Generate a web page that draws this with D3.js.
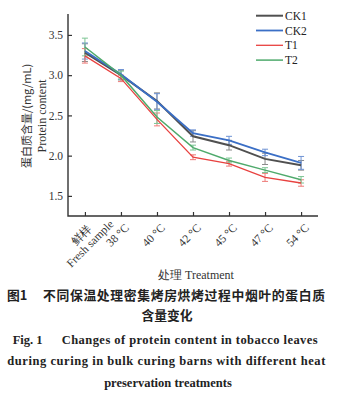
<!DOCTYPE html>
<html>
<head>
<meta charset="utf-8">
<script src="https://cdn.jsdelivr.net/npm/d3@7"></script>
<style>
  body { margin: 0; background: #fff; }
  svg { display: block; }
</style>
</head>
<body>
<div id="chart"></div>
<script>
const categories = ['鲜样|Fresh sample', '38 °C', '40 °C', '42 °C', '45 °C', '47 °C', '54 °C']
const yTicks = [1.5, 2.0, 2.5, 3.0, 3.5]

const ck1 = [3.28, 3.00, 2.68, 2.24, 2.13, 1.96, 1.88]
const ck2 = [3.30, 3.01, 2.67, 2.28, 2.19, 2.04, 1.91]
const t1 = [3.24, 2.96, 2.45, 1.98, 1.90, 1.73, 1.66]
const t2 = [3.35, 3.00, 2.48, 2.10, 1.94, 1.82, 1.70]

const ck1Err = [0.11, 0.06, 0.10, 0.07, 0.06, 0.07, 0.06]
const ck2Err = [0.10, 0.06, 0.10, 0.04, 0.05, 0.04, 0.08]
const t1Err = [0.09, 0.04, 0.08, 0.03, 0.03, 0.05, 0.04]
const t2Err = [0.11, 0.05, 0.08, 0.03, 0.03, 0.03, 0.04]

const seriesNames = ['CK1', 'CK2', 'T1', 'T2']

const series = [
    { name: 'CK1', values: ck1, err: ck1Err, color: '#505050', errColor: '#8a8a8a', w: 2 },
    { name: 'CK2', values: ck2, err: ck2Err, color: '#3b6fc6', errColor: '#6f93d4', w: 1.8 },
    { name: 'T1', values: t1, err: t1Err, color: '#e8413f', errColor: '#ee7a78', w: 1.3 },
    { name: 'T2', values: t2, err: t2Err, color: '#4faa6c', errColor: '#7cc493', w: 1.5 }
]

const width = 343
const height = 401
const margin = { top: 14, left: 68, right: 25, bottom: 185 }
const axisColor = '#333'

const svg = d3.select('#chart')
    .append('svg')
    .attr('width', width)
    .attr('height', height)

const x = d3.scalePoint()
    .domain(categories)
    .range([margin.left, width - margin.right])
    .padding(0.47)

const y = d3.scaleLinear()
    .domain([1.25, 3.76])
    .range([height - margin.bottom, margin.top])

// axes
const yAxis = svg.append('g')
    .attr('transform', `translate(${margin.left},0)`)
    .call(d3.axisRight(y).tickValues(yTicks).tickFormat(d3.format('.1f')).tickSize(4))
yAxis.select('.domain').remove()
yAxis.selectAll('line').attr('stroke', axisColor).attr('stroke-width', 1.2)
yAxis.selectAll('text')
    .attr('x', -5)
    .attr('text-anchor', 'end')
    .attr('fill', '#333')
    .attr('font-family', 'Liberation Serif')
    .attr('font-size', 11.5)

const xAxis = svg.append('g')
    .attr('transform', `translate(0,${height - margin.bottom})`)
    .call(d3.axisTop(x).tickSize(4).tickFormat(''))
xAxis.select('.domain').remove()
xAxis.selectAll('line').attr('stroke', axisColor).attr('stroke-width', 1.2)

svg.append('path')
    .attr('d', `M${margin.left},${margin.top}V${height - margin.bottom}H${width - margin.right}`)
    .attr('fill', 'none')
    .attr('stroke', axisColor)
    .attr('stroke-width', 1.4)

// rotated x tick labels
const xl = svg.append('g')
    .selectAll('g')
    .data(categories)
    .join('g')
    .attr('transform', d => `translate(${x(d)},${height - margin.bottom}) rotate(-45)`)
xl.each(function (d) {
    const lines = d.split('|')
    const t = d3.select(this).append('text')
        .attr('text-anchor', 'middle')
        .attr('fill', '#333')
        .attr('font-family', 'Liberation Serif')
        .attr('font-size', 11.5)
    lines.forEach((s, i) => {
        t.append('tspan').attr('x', -16).attr('y', 15 + i * 12).text(s)
    })
})

// error bars
series.forEach(s => {
    const g = svg.append('g').attr('stroke', s.errColor).attr('stroke-width', 1)
    categories.forEach((c, i) => {
        const cx = x(c)
        const hi = y(s.values[i] + s.err[i])
        const lo = y(s.values[i] - s.err[i])
        g.append('line').attr('x1', cx).attr('x2', cx).attr('y1', hi).attr('y2', lo)
        g.append('line').attr('x1', cx - 3).attr('x2', cx + 3).attr('y1', hi).attr('y2', hi)
        g.append('line').attr('x1', cx - 3).attr('x2', cx + 3).attr('y1', lo).attr('y2', lo)
    })
})

// lines
const line = d3.line()
    .x((d, i) => x(categories[i]))
    .y(d => y(d))

series.forEach(s => {
    svg.append('path')
        .datum(s.values)
        .attr('d', line)
        .attr('fill', 'none')
        .attr('stroke', s.color)
        .attr('stroke-width', s.w)
})

// legend
const legend = svg.append('g')
    .selectAll('g')
    .data(series)
    .join('g')
    .attr('transform', (d, i) => `translate(256,${15.7 + i * 14.8})`)
legend.append('line')
    .attr('x1', 0).attr('x2', 27)
    .attr('stroke', d => d.color)
    .attr('stroke-width', d => d.w)
legend.append('text')
    .attr('x', 29)
    .attr('y', 4)
    .attr('fill', '#222')
    .attr('font-family', 'Liberation Serif')
    .attr('font-size', 11.5)
    .text(d => d.name)

// axis titles
svg.append('text')
    .attr('transform', 'translate(31,116) rotate(-90)')
    .attr('text-anchor', 'middle')
    .attr('fill', '#333')
    .attr('font-family', 'Noto Sans CJK SC')
    .attr('font-size', 11)
    .text('蛋白质含量/(mg/mL)')
svg.append('text')
    .attr('transform', 'translate(46,116) rotate(-90)')
    .attr('text-anchor', 'middle')
    .attr('fill', '#333')
    .attr('font-family', 'Liberation Serif')
    .attr('font-size', 12)
    .text('Protein content')
svg.append('text')
    .attr('x', 196)
    .attr('y', 279)
    .attr('text-anchor', 'middle')
    .attr('fill', '#333')
    .attr('font-family', 'Liberation Serif')
    .attr('font-size', 12)
    .text('处理 Treatment')

// caption
const cap = svg.append('g').attr('fill', '#222').attr('font-weight', 'bold')
cap.append('text')
    .attr('x', 7).attr('y', 300)
    .attr('font-family', 'Noto Sans CJK SC').attr('font-size', 12.8)
    .text('图1')
cap.append('text')
    .attr('x', 43).attr('y', 300)
    .attr('font-family', 'Noto Sans CJK SC').attr('font-size', 12.8)
    .attr('textLength', 282).attr('lengthAdjust', 'spacing')
    .text('不同保温处理密集烤房烘烤过程中烟叶的蛋白质')
cap.append('text')
    .attr('x', 167).attr('y', 320).attr('text-anchor', 'middle')
    .attr('font-family', 'Noto Sans CJK SC').attr('font-size', 12.8)
    .text('含量变化')
cap.append('text')
    .attr('x', 12.7).attr('y', 344)
    .attr('font-family', 'Liberation Serif').attr('font-size', 12.5)
    .text('Fig. 1')
cap.append('text')
    .attr('x', 61.7).attr('y', 344)
    .attr('font-family', 'Liberation Serif').attr('font-size', 12.5)
    .attr('textLength', 256).attr('lengthAdjust', 'spacing')
    .text('Changes of protein content in tobacco leaves')
cap.append('text')
    .attr('x', 7.3).attr('y', 365)
    .attr('font-family', 'Liberation Serif').attr('font-size', 12.5)
    .attr('textLength', 318).attr('lengthAdjust', 'spacing')
    .text('during curing in bulk curing barns with different heat')
cap.append('text')
    .attr('x', 168).attr('y', 387).attr('text-anchor', 'middle')
    .attr('font-family', 'Liberation Serif').attr('font-size', 12.5)
    .text('preservation treatments')
</script>
</body>
</html>
